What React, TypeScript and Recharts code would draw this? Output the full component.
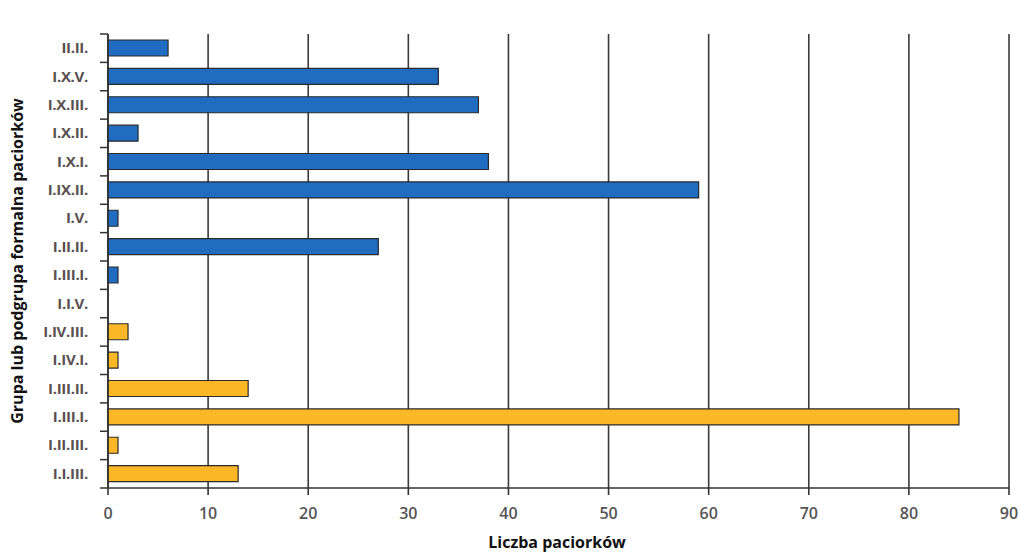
import React from 'react'
import { BarChart, Bar, XAxis, YAxis, CartesianGrid, Cell } from 'recharts'

// top to bottom, as in the figure
const categories = [
  'II.II.', 'I.X.V.', 'I.X.III.', 'I.X.II.', 'I.X.I.', 'I.IX.II.', 'I.V.', 'I.II.II.',
  'I.III.I.', 'I.I.V.', 'I.IV.III.', 'I.IV.I.', 'I.III.II.', 'I.III.I.', 'I.II.III.', 'I.I.III.',
]
const counts = [6, 33, 37, 3, 38, 59, 1, 27, 1, 0, 2, 1, 14, 85, 1, 13]
// 0 = blue group, 1 = yellow group
const groups = [0, 0, 0, 0, 0, 0, 0, 0, 0, 1, 1, 1, 1, 1, 1, 1]
const xTicks = [0, 10, 20, 30, 40, 50, 60, 70, 80, 90]

const COLORS = ['#1f6cc1', '#fbb726']
const W = 1020
const H = 554
const MARGIN = { top: 34, right: 11, bottom: 0, left: 0 }
const X_HEIGHT = 66
const FONT = '"Open Sans", Lato, sans-serif'
const BAND = (H - MARGIN.top - MARGIN.bottom - X_HEIGHT) / categories.length

const data = categories.map((name, i) => ({ name, count: counts[i], group: groups[i] }))

function YTick(props: any) {
  const { x, y, payload, index } = props
  const ax = x + 20
  return (
    <g>
      <line x1={ax - 8} x2={ax} y1={y - BAND / 2} y2={y - BAND / 2} stroke="#333" strokeWidth={1.5} />
      {index === categories.length - 1 && (
        <line x1={ax - 8} x2={ax} y1={y + BAND / 2} y2={y + BAND / 2} stroke="#333" strokeWidth={1.5} />
      )}
      <text x={x} y={y} dy={5} textAnchor="end" fill="#5a5050" fontSize={15} fontWeight={700} fontFamily={FONT} letterSpacing={-0.3}>
        {payload.value}
      </text>
    </g>
  )
}

export default function App() {
  return (
    <div style={{ position: 'absolute', left: 0, top: 0, width: W, height: H, background: '#fff' }}>
      <BarChart width={W} height={H} data={data} layout="vertical" margin={MARGIN}>
        <CartesianGrid horizontal={false} stroke="#3a3a3a" strokeWidth={1.6} />
        <XAxis
          type="number"
          dataKey="count"
          domain={[0, 90]}
          ticks={xTicks}
          height={X_HEIGHT}
          stroke="#333"
          strokeWidth={1.6}
          tickSize={7}
          tickMargin={13}
          tick={{ fill: '#555', fontSize: 16, fontWeight: 600, fontFamily: FONT }}
          label={{
            content: () => (
              <text x={557} y={548} textAnchor="middle" fill="#111" fontSize={16} fontWeight={700} fontFamily={FONT}>
                Liczba paciorków
              </text>
            ),
          }}
        />
        <YAxis
          type="category"
          dataKey="name"
          width={108}
          stroke="#333"
          strokeWidth={1.6}
          tickLine={false}
          tickSize={8}
          tickMargin={12}
          interval={0}
          tick={<YTick />}
          label={{
            content: () => (
              <text
                x={19}
                y={261}
                transform="rotate(-90, 19, 261)"
                textAnchor="middle"
                dominantBaseline="middle"
                fill="#111"
                fontSize={16}
                fontWeight={700}
                fontFamily={FONT}
              >
                Grupa lub podgrupa formalna paciorków
              </text>
            ),
          }}
        />
        <Bar dataKey="count" barSize={16} stroke="#2a2a2a" strokeWidth={1.2} isAnimationActive={false}>
          {data.map((d, i) => (
            <Cell key={i} fill={COLORS[d.group]} />
          ))}
        </Bar>
      </BarChart>
    </div>
  )
}
